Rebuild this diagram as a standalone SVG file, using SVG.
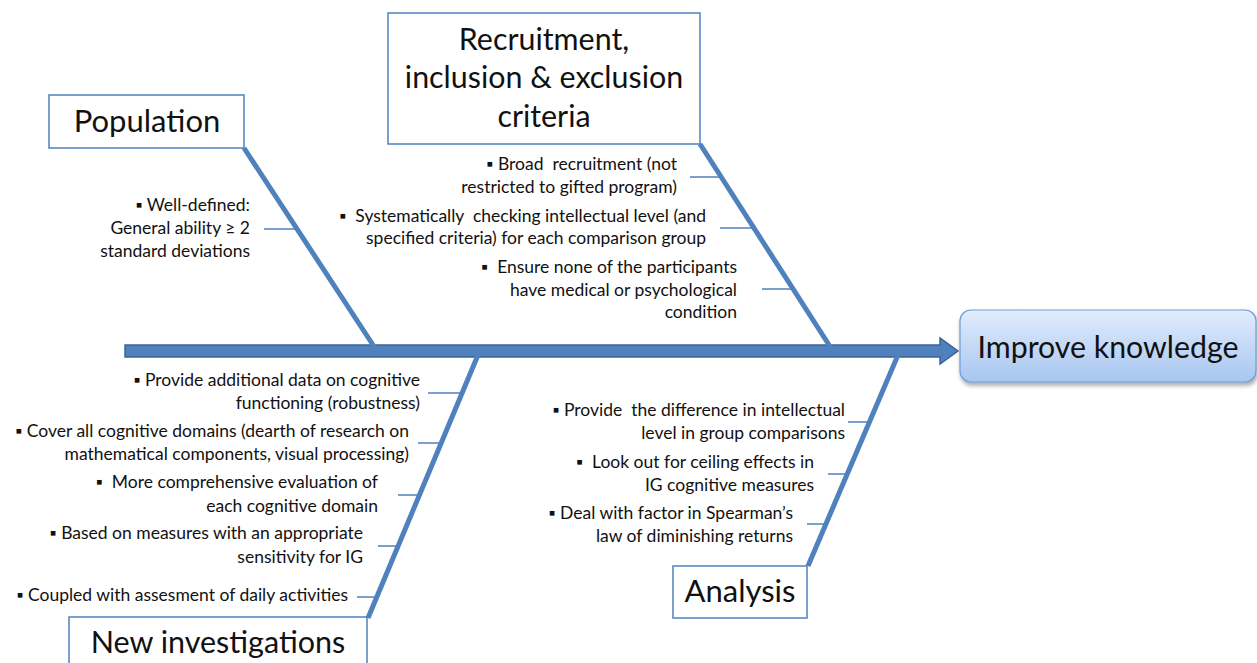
<svg xmlns="http://www.w3.org/2000/svg" width="1257" height="663" viewBox="0 0 1257 663">
<defs>
<linearGradient id="g1" x1="0" y1="0" x2="0" y2="1">
<stop offset="0" stop-color="#e2ecfc"/>
<stop offset="1" stop-color="#a7c6f0"/>
</linearGradient>
<filter id="sh" x="-10%" y="-20%" width="120%" height="150%">
<feDropShadow dx="1" dy="3" stdDeviation="2" flood-color="#000" flood-opacity="0.35"/>
</filter>
</defs>
<style>
.box{fill:#fff;stroke:#4f81bd;stroke-width:1.5}
.bone{stroke:#4f81bd;stroke-width:5;fill:none}
.tick{stroke:#4f81bd;stroke-width:1.5;fill:none}
.t{font-family:Lato,"Liberation Sans",sans-serif;fill:#111;white-space:pre}
.s{font-size:17.5px;text-anchor:end}
.h{font-size:31px;text-anchor:middle}
</style>
<rect width="1257" height="663" fill="#fff"/>
<g id="connectors">
<path d="M125,345 H940 V338 L958,351 L940,364 V357 H125 Z" fill="#4f81bd" stroke="#3b6497" stroke-width="1.5"/>
<line class="bone" x1="244" y1="148" x2="375" y2="348"/>
<line class="bone" x1="700" y1="144" x2="831" y2="348"/>
<line class="bone" x1="478" y1="355" x2="368" y2="618"/>
<line class="bone" x1="898" y1="355" x2="808" y2="566"/>
<line class="tick" x1="264" y1="229" x2="297" y2="229"/>
<line class="tick" x1="690" y1="177" x2="722" y2="177"/>
<line class="tick" x1="720" y1="228" x2="753" y2="228"/>
<line class="tick" x1="762" y1="289" x2="793" y2="289"/>
<line class="tick" x1="428" y1="393" x2="462" y2="393"/>
<line class="tick" x1="418" y1="443" x2="441" y2="443"/>
<line class="tick" x1="398" y1="495" x2="419" y2="495"/>
<line class="tick" x1="378" y1="546" x2="397" y2="546"/>
<line class="tick" x1="357" y1="597" x2="375" y2="597"/>
<line class="tick" x1="848" y1="422" x2="869" y2="422"/>
<line class="tick" x1="828" y1="474" x2="847" y2="474"/>
<line class="tick" x1="807" y1="524" x2="826" y2="524"/>
</g>
<g id="population">
<rect class="box" x="49" y="95" width="195" height="53"/>
<text class="t h" x="147" y="132">Population</text>
<text class="t s" x="250" y="211">▪ Well-defined:</text>
<text class="t s" x="250" y="234">General ability ≥ 2</text>
<text class="t s" x="250" y="257">standard deviations</text>
</g>
<g id="recruitment">
<rect class="box" x="388" y="13" width="312" height="131"/>
<text class="t h" x="544" y="50" style="font-size:30.4px">Recruitment,</text>
<text class="t h" x="544" y="88" style="font-size:30.4px">inclusion &amp; exclusion</text>
<text class="t h" x="544" y="127" style="font-size:30.4px">criteria</text>
<text class="t s" x="677" y="170">▪ Broad  recruitment (not</text>
<text class="t s" x="677" y="193">restricted to gifted program)</text>
<text class="t s" x="706" y="222">▪  Systematically  checking intellectual level (and</text>
<text class="t s" x="706" y="244">specified criteria) for each comparison group</text>
<text class="t s" x="737" y="273">▪  Ensure none of the participants</text>
<text class="t s" x="737" y="296">have medical or psychological</text>
<text class="t s" x="737" y="318">condition</text>
</g>
<g id="improve">
<rect x="960" y="310" width="296" height="72" rx="11" fill="url(#g1)" stroke="#6f9bd4" stroke-width="1.2" filter="url(#sh)"/>
<text class="t h" x="1108" y="358" style="font-size:30.3px">Improve knowledge</text>
</g>
<g id="new-investigations">
<rect class="box" x="69" y="617" width="298" height="60"/>
<text class="t h" x="218" y="653" style="font-size:30.5px">New investigations</text>
<text class="t s" x="420" y="386">▪ Provide additional data on cognitive</text>
<text class="t s" x="420" y="409">functioning (robustness)</text>
<text class="t s" x="409" y="437">▪ Cover all cognitive domains (dearth of research on</text>
<text class="t s" x="409" y="460">mathematical components, visual processing)</text>
<text class="t s" x="378" y="488">▪  More comprehensive evaluation of</text>
<text class="t s" x="378" y="512">each cognitive domain</text>
<text class="t s" x="363" y="539">▪ Based on measures with an appropriate</text>
<text class="t s" x="363" y="563">sensitivity for IG</text>
<text class="t s" x="348" y="601">▪ Coupled with assesment of daily activities</text>
</g>
<g id="analysis">
<rect class="box" x="673" y="566" width="134" height="52"/>
<text class="t h" x="740" y="602">Analysis</text>
<text class="t s" x="845" y="416">▪ Provide  the difference in intellectual</text>
<text class="t s" x="845" y="439">level in group comparisons</text>
<text class="t s" x="814" y="468">▪  Look out for ceiling effects in</text>
<text class="t s" x="814" y="491">IG cognitive measures</text>
<text class="t s" x="793" y="519">▪ Deal with factor in Spearman’s</text>
<text class="t s" x="793" y="542">law of diminishing returns</text>
</g>
</svg>
